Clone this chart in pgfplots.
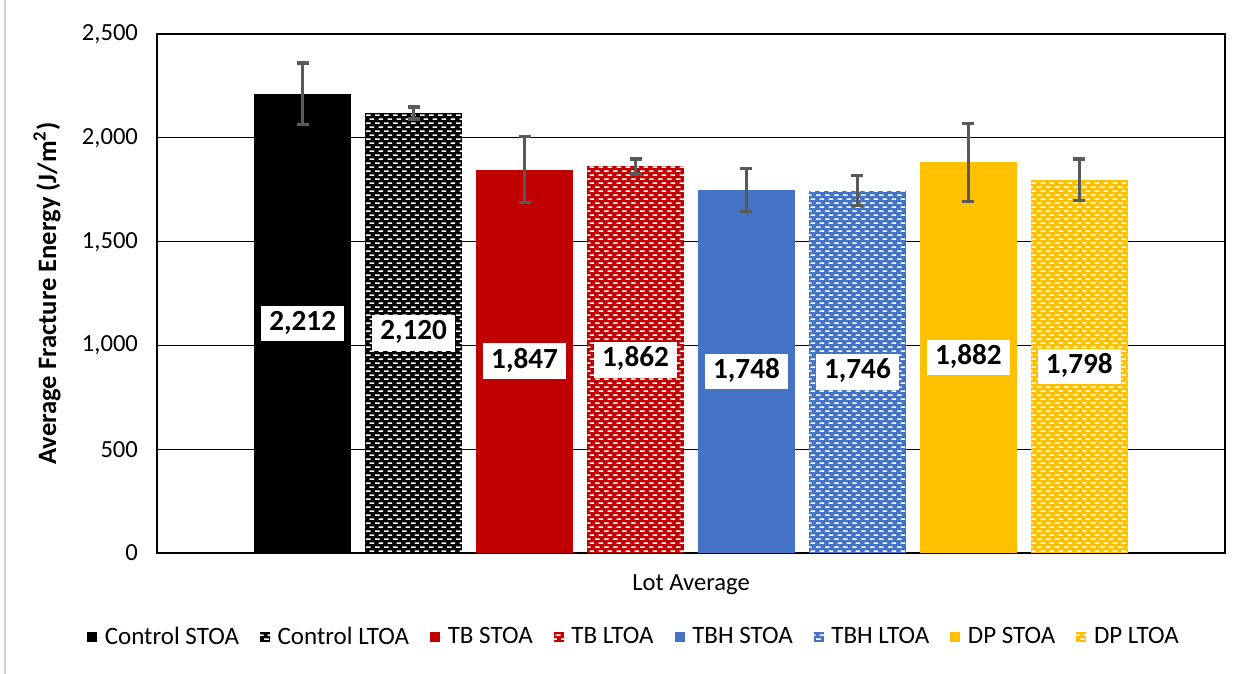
\documentclass[border=0pt]{standalone}
\usepackage{pgfplots}
\pgfplotsset{compat=1.18}
\usetikzlibrary{patterns.meta}
\usepackage{fontspec}
\setmainfont{Carlito}

\definecolor{cred}{HTML}{C00000}
\definecolor{cblue}{HTML}{4472C4}
\definecolor{cgold}{HTML}{FFC000}
\definecolor{errgray}{HTML}{595959}

\pgfdeclarepattern{
  name=brick, type=uncolored,
  bottom left={\pgfpoint{0pt}{0pt}},
  top right={\pgfpoint{4.25pt}{4.2pt}},
  tile size={\pgfpoint{4.25pt}{4.2pt}},
  code={
    \pgfpathrectangle{\pgfpoint{0pt}{0.6pt}}{\pgfpoint{2.4pt}{0.85pt}}
    \pgfpathrectangle{\pgfpoint{1.85pt}{2.7pt}}{\pgfpoint{2.4pt}{0.85pt}}
    \pgfusepath{fill}
  }
}

\begin{document}
\begin{tikzpicture}
\useasboundingbox (-78.5pt,-60.5pt) rectangle (548pt,276.5pt);
\draw[black!18, line width=1pt] (-76pt,-60.5pt) -- (-76pt,276.5pt);
\begin{axis}[
  scale only axis, width=534pt, height=259.5pt,
  xmin=-1.313, xmax=8.313, ymin=0, ymax=2500,
  ybar, bar width=48.25pt, bar shift=0pt,
  xtick=\empty, ytick={0,500,...,2500},
  ymajorgrids, major grid style={black, line width=0.5pt},
  axis line style={black, line width=0.8pt},
  major tick length=0pt,
  yticklabel style={font=\fontsize{12.3}{14}\selectfont, anchor=east, xshift=-6pt},
  /pgf/number format/.cd, 1000 sep={,}, assume math mode=true, /pgfplots/.cd,
  ylabel={Average Fracture Energy (J/m\textsuperscript{2})},
  ylabel style={font=\bfseries\fontsize{13.3}{15}\selectfont, at={(axis description cs:-0.103,0.5)}, anchor=center},
  xlabel={Lot Average},
  xlabel style={font=\fontsize{12.3}{14}\selectfont, at={(axis description cs:0.5,-0.0617)}, anchor=center},
  error bars/error bar style={line width=1.7pt, errgray},
  error bars/error mark options={rotate=90, errgray, mark size=3pt, line width=1.7pt},
  legend columns=-1,
  legend image code/.code={\fill[#1] (0pt,-2.5pt) rectangle (5pt,2.5pt); \path (5pt,0pt) -- (6.8pt,0pt);},
  legend style={at={(0.4476,-0.162)}, anchor=center, draw=none, font=\fontsize{12.5}{14}\selectfont,
    /tikz/every even column/.append style={column sep=8.5pt}},
]
\addplot[fill=black, draw=none, error bars/.cd, y dir=both, y explicit] coordinates {(0,2212) +- (0,149)};
\addlegendentry{Control STOA}
\addplot[fill=black, draw=none, postaction={pattern=brick, pattern color=white}, error bars/.cd, y dir=both, y explicit] coordinates {(1,2120) +- (0,29)};
\addlegendentry{Control LTOA}
\addplot[fill=cred, draw=none, error bars/.cd, y dir=both, y explicit] coordinates {(2,1847) +- (0,158)};
\addlegendentry{TB STOA}
\addplot[fill=cred, draw=none, postaction={pattern=brick, pattern color=white}, error bars/.cd, y dir=both, y explicit] coordinates {(3,1862) +- (0,36)};
\addlegendentry{TB LTOA}
\addplot[fill=cblue, draw=none, error bars/.cd, y dir=both, y explicit] coordinates {(4,1748) +- (0,103)};
\addlegendentry{TBH STOA}
\addplot[fill=cblue, draw=none, postaction={pattern=brick, pattern color=white}, error bars/.cd, y dir=both, y explicit] coordinates {(5,1746) +- (0,72)};
\addlegendentry{TBH LTOA}
\addplot[fill=cgold, draw=none, error bars/.cd, y dir=both, y explicit] coordinates {(6,1882) +- (0,188)};
\addlegendentry{DP STOA}
\addplot[fill=cgold, draw=none, postaction={pattern=brick, pattern color=white}, error bars/.cd, y dir=both, y explicit] coordinates {(7,1798) +- (0,100)};
\addlegendentry{DP LTOA}
\addplot[forget plot, draw=none, fill=none, nodes near coords, point meta=explicit symbolic,
  every node near coord/.style={anchor=center, fill=white, text=black, font=\bfseries\fontsize{14.6}{15}\selectfont, inner xsep=4pt, inner ysep=3pt, text height=9.3pt, text depth=2.5pt}]
  coordinates {(0,1106)[2,212] (1,1060)[2,120] (2,923.5)[1,847] (3,931)[1,862] (4,874)[1,748] (5,873)[1,746] (6,941)[1,882] (7,899)[1,798]};
\end{axis}
\end{tikzpicture}
\end{document}
